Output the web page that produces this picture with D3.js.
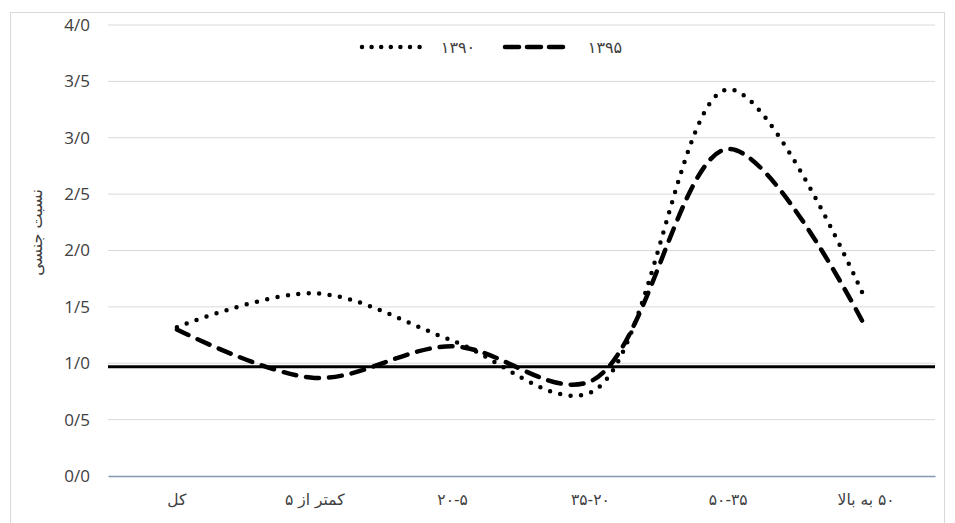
<!DOCTYPE html>
<html><head><meta charset="utf-8">
<script src="https://cdn.jsdelivr.net/npm/d3@7"></script>
<style>body{margin:0;background:#fff;} svg{display:block;}</style>
</head><body>
<svg id="c" width="955" height="523"></svg>
<script>
const categories = ["کل", "کمتر از ۵", "۲۰-۵", "۳۵-۲۰", "۵۰-۳۵", "۵۰ به بالا"];
const series1390 = [1.32, 1.62, 1.20, 0.74, 3.43, 1.55];
const series1395 = [1.30, 0.87, 1.15, 0.84, 2.90, 1.31];
const referenceValue = 0.97;
const yTicks = [0, 0.5, 1.0, 1.5, 2.0, 2.5, 3.0, 3.5, 4.0];
const seriesNames = ["۱۳۹۰", "۱۳۹۵"];
const yTitle = "نسبت جنسی";

const svg = d3.select("#c");
const W = 955, H = 523;
const m = {left: 108, right: 20, top: 25, bottom: 47};
svg.append("rect").attr("x", 10.5).attr("y", 12.5).attr("width", W - 21).attr("height", H - 12)
  .attr("fill", "#fff").attr("stroke", "#d9d9d9");

const x = d3.scaleBand().domain(categories).range([m.left, W - m.right]);
const y = d3.scaleLinear().domain([0, 4]).range([H - m.bottom, m.top]);
const fmt = v => v.toFixed(1).replace(".", "/");

// gridlines
svg.append("g").selectAll("line").data(yTicks.filter(t => t > 0)).join("line")
  .attr("x1", m.left).attr("x2", W - m.right)
  .attr("y1", d => y(d)).attr("y2", d => y(d))
  .attr("stroke", "#d9d9d9").attr("stroke-width", 1);

// y axis labels
const ya = svg.append("g").attr("transform", `translate(${m.left},0)`)
  .call(d3.axisLeft(y).tickValues(yTicks).tickFormat(fmt).tickSize(0).tickPadding(18));
ya.select(".domain").remove();
ya.selectAll("text").attr("font-family", "Open Sans, Liberation Sans, sans-serif")
  .attr("font-size", 17).attr("fill", "#404040");

// x axis
const xa = svg.append("g").attr("transform", `translate(0,${y(0)})`)
  .call(d3.axisBottom(x).tickSize(0).tickPadding(18));
xa.select(".domain").attr("stroke", "#8497b0").attr("stroke-width", 1.5);
xa.selectAll("text").attr("font-family", "DejaVu Sans, sans-serif")
  .attr("font-size", 15.5).attr("fill", "#404040").attr("direction", "rtl");

// y title
svg.append("text").attr("transform", `translate(42,${(y(0)+y(4))/2 - 18}) rotate(-90)`)
  .attr("text-anchor", "middle").attr("direction", "rtl")
  .attr("font-family", "DejaVu Sans, sans-serif").attr("font-size", 16).attr("fill", "#404040")
  .text(yTitle);

// reference line
svg.append("line").attr("x1", m.left).attr("x2", W - m.right)
  .attr("y1", y(referenceValue)).attr("y2", y(referenceValue))
  .attr("stroke", "#000").attr("stroke-width", 3);

const cx = c => x(c) + x.bandwidth() / 2;
const line = d3.line().x((d, i) => cx(categories[i])).y(d => y(d)).curve(d3.curveCatmullRom.alpha(0.5));

const styles = [
  {dash: "0 10.5", w: 4.5},
  {dash: "13 10", w: 4.5}
];
[series1390, series1395].forEach((s, k) => {
  svg.append("path").attr("d", line(s)).attr("fill", "none").attr("stroke", "#000")
    .attr("stroke-width", styles[k].w).attr("stroke-dasharray", styles[k].dash)
    .attr("stroke-linecap", "round");
});

// legend
const leg = [{x1: 362, x2: 420, tx: 458}, {x1: 505, x2: 568, tx: 605}];
leg.forEach((l, k) => {
  svg.append("line").attr("x1", l.x1).attr("x2", l.x2).attr("y1", 47).attr("y2", 47)
    .attr("stroke", "#000").attr("stroke-width", styles[k].w)
    .attr("stroke-dasharray", k === 0 ? "0 9.6" : "14 8").attr("stroke-linecap", "round");
  svg.append("text").attr("x", l.tx).attr("y", 53).attr("text-anchor", "middle")
    .attr("font-family", "DejaVu Sans, sans-serif").attr("font-size", 16).attr("fill", "#404040")
    .text(seriesNames[k]);
});
</script>
</body></html>
